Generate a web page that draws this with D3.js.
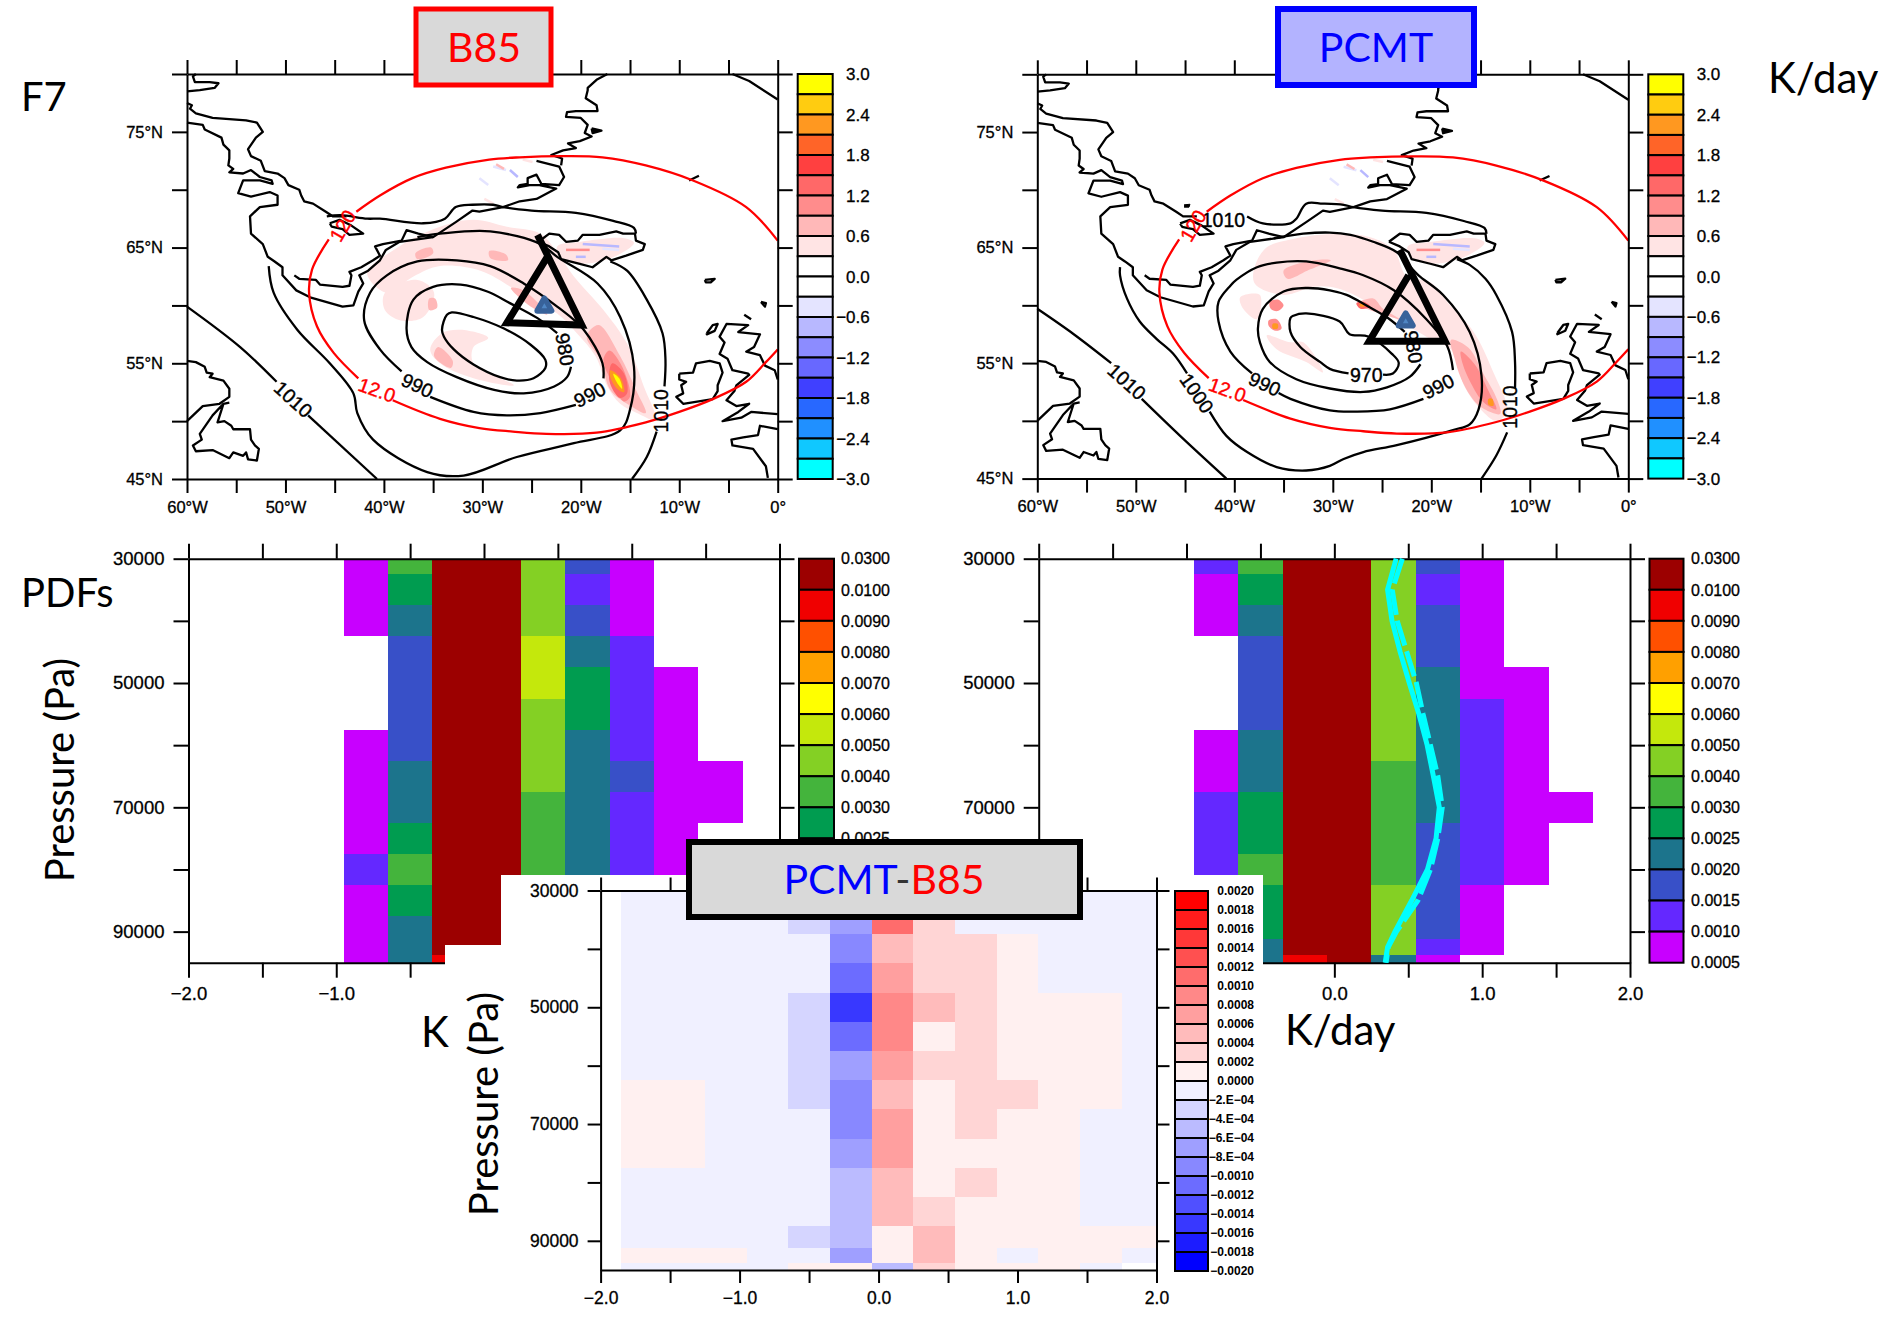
<!DOCTYPE html>
<html>
<head>
<meta charset="utf-8">
<title>F7 PDFs B85 PCMT</title>
<script src="https://cdn.jsdelivr.net/npm/d3@7"></script>
<style>
  html, body { margin: 0; background: #fff; }
  svg { display: block; }
  .tick line, .domain { stroke: #000; stroke-width: 2px; }
</style>
</head>
<body>
<div id="chart"></div>
<script>
// ---- coast lines, [lon, lat]
const coastNorthIsle = [[-59.1,80],[-59.4,79.8],[-59.2,79.3],[-57.7,79.3],[-56.8,79.2],[-57.2,78.8],[-58.7,78.6],[-60,78.5]]
const coastBaffin = [[-60,77.5],[-59.5,77.3],[-59.7,77],[-59.1,76.6],[-57.4,76.2],[-54,76],[-52.9,75.8],[-52.3,75],[-53,74.5],[-53.8,73.5],[-53.5,72.9],[-52.5,72.5],[-52.1,71.6],[-50.8,71.4],[-50.1,71],[-49.7,70.4],[-48.6,70],[-48.4,69.5],[-48.1,69],[-47.2,68.8],[-45.9,68.1],[-45.2,67.7],[-43.8,67.7]]
const coastWest = [[-60,75.8],[-58.4,75.6],[-58.2,75.2],[-56.5,74.5],[-56.3,73.9],[-55.7,73.4],[-55.7,72.7],[-55.8,72.1],[-55.3,71.8],[-55.7,71.5],[-54.3,71.4],[-53.5,71.7],[-52.6,71.1],[-51.4,70.8],[-51.3,70.5],[-52.6,70.8],[-54.3,70.8],[-54.8,69.7],[-53.5,69.4],[-51.6,69.8],[-50.8,69.5],[-50.8,68.7],[-52.6,68.5],[-53.6,67.7],[-53.5,66.2],[-52.3,65.3],[-51.8,64.2],[-51.1,63.8],[-50.3,63.3],[-50.3,62.6],[-48.9,61.3],[-47.5,60.7],[-44.2,59.9],[-43.1,60],[-42.6,61.2],[-42.1,61.9],[-42.5,62.6],[-41.6,63],[-40.4,63.9],[-39.8,64.8],[-38.4,65.5],[-35,65.9],[-32.7,67.2],[-31,68.2],[-30.3,68.1],[-27.9,68.5],[-26.2,69],[-24.5,69.2],[-22.5,70.1],[-24.2,70.4],[-25.2,70.4],[-26.4,70.2],[-26.2,70.4],[-25.4,70.5],[-25.4,71],[-24.5,71.3],[-24,70.5],[-22.2,70.4],[-21.7,71.1],[-22.2,72],[-24.5,72.5]]
const coastInner = [[-49.1,62.6],[-48.6,62.3],[-46.9,62.2],[-46.5,61.8],[-44.2,61.6],[-43.5,61.7],[-43.3,62.6],[-43.5,62.9],[-42.3,63.3],[-41.1,63.9],[-40.4,64.3],[-40.9,65.1],[-40.1,65.3],[-38.2,65.6],[-37.7,66.5],[-36.5,66.2],[-35,65.9]]
const coastEast = [[-22,72.1],[-21.9,72.7],[-23,73],[-21.8,73.4],[-20.5,73.6],[-21.3,74],[-20.1,74.2],[-18.9,74.6],[-19.6,74.9],[-19.3,75.6],[-20,76.2],[-21.5,76.3],[-21.4,76.7],[-20.5,76.8],[-18.3,76.8],[-18.4,77.3],[-19.5,77.9],[-19.3,78.6],[-19.3,78.8],[-18.4,79.5],[-17.3,80]]
const coastLoop = [[-45.5,67.1],[-44.5,67.4],[-43.3,66.9],[-42.1,66.2],[-43.5,66.1],[-44.2,66.6],[-45.3,66.8],[-45.5,67.1]]
const coastNewfLabrador = [[-60,55.2],[-59.1,55.1],[-58.2,54.7],[-58,54.2],[-57.4,54.1],[-57.7,53.8],[-56.3,53.5],[-55.7,52.8],[-55.7,52.1],[-56.7,51.5],[-58.4,51.3],[-60,50]]
const coastNewfoundland = [[-55.7,51.6],[-56.3,51.5],[-56.9,49.9],[-56.2,50],[-55.5,49.6],[-55.3,49.3],[-53.6,49.3],[-53.5,48.4],[-53.1,47.9],[-52.7,47.6],[-52.9,46.6],[-53.8,46.7],[-54,47.3],[-54.3,47],[-55.3,47.3],[-55.7,46.8],[-57.4,47.5],[-59.1,47.4],[-59.4,47.9],[-58.5,48.4],[-58.7,48.9],[-57.4,50.5],[-56.3,51.5]]
const coastIceland = [[-24.3,65.5],[-23.2,66.2],[-22.2,66.1],[-21.5,65.5],[-20.3,65.6],[-19.8,66.1],[-18.1,66.1],[-16.4,66.4],[-15.7,66.2],[-14.5,66.2],[-14.4,65.6],[-13.5,65.3],[-13.7,64.8],[-15.4,64.3],[-16.9,63.9],[-17.4,64.2],[-18.8,63.3],[-20.1,63.6],[-22,64],[-22.3,64.6],[-23.2,65.1],[-24.3,65.5]]
const coastBritain = [[0,53.6],[-0.3,54.4],[-1.3,54.8],[-1.8,55.7],[-3.2,56],[-2.4,56.4],[-1.8,57.5],[-4,57.7],[-3,58.3],[-5.2,58.4],[-5.9,57.3],[-5.4,56.8],[-5.9,55.8],[-5.1,55.4],[-4.6,54.4],[-3,54.1],[-2.9,54],[-4.2,53.1],[-4.4,52.6],[-5.2,51.8],[-4.2,51.3],[-2.9,51.5],[-4,50.8],[-5.6,50],[-3.7,50.3],[-2.7,50.8],[0,50.6]]
const coastIreland = [[-10,54.1],[-8.6,54.2],[-8.3,55],[-6.9,55.2],[-5.9,55],[-5.6,54.2],[-6.1,53.1],[-6.1,52.6],[-6.6,51.9],[-9.6,51.5],[-10.3,52.1],[-9.6,52.4],[-9.8,53.1],[-9.3,53.4],[-10,53.6],[-10,54.1]]
const coastFrance = [[0,49.3],[-1.8,49.6],[-2,48.8],[-3.5,48.6],[-4.7,48.4],[-4.6,47.9],[-2.5,47.6],[-1.2,46.1],[-1,45.1]]
const coastHebrides = [[-7.2,57.6],[-6.6,58.3],[-6.1,58.4],[-6.4,57.8],[-7.2,57.5],[-7.2,57.6]]
const coastOrkney = [[-3.4,59.2],[-2.7,58.8]]
const coastShetland = [[-1.7,60.3],[-1.2,60.2],[-1.3,59.9],[-1.7,60.3]]
const coastFaroes = [[-7.4,62.2],[-6.4,62.3],[-6.8,62],[-7.3,62],[-7.4,62.2]]
const coastSvalbard = [[-4.6,80],[-2.9,79.4],[0,77.8]]
const coastJanMayen = [[-9,70.8],[-8,71.2]]
const coastSmallEast = [[-18.9,75.3],[-17.9,75.1],[-18.8,74.9],[-18.9,75.3]]
const coasts = [coastNorthIsle, coastBaffin, coastWest, coastInner, coastEast, coastLoop, coastNewfLabrador, coastNewfoundland, coastIceland, coastBritain, coastIreland, coastFrance, coastHebrides, coastOrkney, coastShetland, coastFaroes, coastSvalbard, coastJanMayen, coastSmallEast]

// ---- red wind contour (12.0), same in both maps
const red12South = [[0,56.2],[-1.2,55.1],[-3.2,53.4],[-6.6,51.9],[-10,50.8],[-13.4,49.9],[-18.4,49],[-23.5,48.9],[-26.9,49.1],[-30.3,49.4],[-34.3,50.2],[-39.1,51.8]]
const red12West = [[-42.6,53.7],[-45.1,55.9],[-46.8,58.2],[-47.6,61.1],[-47.3,63.1],[-45.6,65.7]]
const red12North = [[-42.8,68.1],[-40.4,69.5],[-37.1,71],[-33.7,71.9],[-29.3,72.6],[-26.2,72.8],[-21.8,72.9],[-17.8,72.8],[-13.4,72.1],[-8.6,70.8],[-3.2,68.5],[0,65.6]]

// ---- sea level pressure contours, B85
const b85P970 = [[-34.1,57.9],[-33.6,59.2],[-33.1,59.4],[-30.9,59],[-27.8,58],[-25.1,56.6],[-23.6,55.3],[-23.6,54.6],[-24.8,53.7],[-26.5,53.5],[-28.2,53.8],[-30.9,54.9],[-32.9,56.2],[-33.9,57.3]]
const b85P980 = [[-21,54.7],[-21.4,53.8],[-22.7,53],[-25.8,52.4],[-28.8,52.7],[-32.6,53.8],[-35.6,55.1],[-37.2,56.4],[-37.7,58],[-37,60.5],[-35,61.6],[-32.2,61.8],[-29.5,61.2],[-27.2,60.2],[-24.4,58.9],[-22.4,57.6]]
const b85P990a = [[-38.2,54.3],[-40.4,56.2],[-42,58.7],[-41.4,61.1],[-39.7,62.6],[-36.6,63.8],[-32.6,63.9],[-29.2,63.4],[-25.8,61.9],[-22.4,59.9],[-19.7,57.9],[-17.8,55],[-17.7,53.7]]
const b85P990b = [[-35.3,52.1],[-30.9,50.8],[-27.5,50.5],[-24.1,50.7],[-20.5,51.4]]
const b85P1000 = [[-51.7,63.4],[-51.2,61.1],[-48.8,57.9],[-45.5,55],[-43.1,52.4],[-42.7,50.7],[-41.1,48.4],[-35.6,45.6],[-31.9,45.3],[-26.5,46.9],[-20.7,48.1],[-16,49.2],[-15,51],[-14.6,54.7],[-16,59],[-18.3,61.9],[-22.4,64.2],[-24.1,65.3],[-29.2,66.4],[-34.3,66.2],[-36.6,65.9]]
const b85P1010West = [[-60,59.9],[-54.6,56.4],[-50.9,53.4]]
const b85P1010WestB = [[-47.7,50.5],[-40.7,45]]
const b85P1010North = [[-45.8,67.7],[-44.4,67.8],[-41.7,67.5],[-40.4,67.5],[-36,67.1],[-33.8,67.5],[-32.7,68.5],[-31,68.7],[-28.9,68.7],[-27.9,68.5],[-25,68.2],[-20.5,68],[-16.7,67.3],[-14.6,66.7],[-14.4,66.2]]
const b85P1010East = [[-17,63.8],[-15.3,63],[-13.3,60.5],[-11.7,57.6],[-11.4,55.3],[-11.5,53]]
const b85P1010EastB = [[-12.3,49.1],[-13.3,46.9],[-14.8,45]]

// ---- sea level pressure contours, PCMT
const pcmtP970 = [[-24.9,54],[-23.9,54.1],[-23.3,55],[-24,55.8],[-26.4,57.3],[-28.3,57.5],[-29.3,58.6],[-32.7,59.3],[-34,59.1],[-34.3,58.9],[-34.3,57.7],[-33.3,56.4],[-31.3,55.1],[-30.3,54.5],[-28.4,54.1]]
const pcmtP980 = [[-21.1,54.9],[-22.2,53.8],[-24.5,52.9],[-26.9,52.5],[-30.3,52.8],[-33.7,53.6],[-36.4,55.1],[-37.4,56.8],[-37.6,58],[-37.1,59.7],[-35,61.2],[-32.7,61.5],[-30.3,61.3],[-28.6,60.9],[-26.4,59.9],[-24.4,58.9],[-22.7,57.7]]
const pcmtP990a = [[-17.8,54.4],[-18.4,56.5],[-20.5,58.8],[-23.8,61.3],[-26.9,62.6],[-29.3,63.2],[-32.7,63.8],[-35.7,63.7],[-37.7,63.3],[-39.8,62.2],[-40.4,61.7],[-41.6,60.3],[-41.6,58.6],[-40.4,56],[-38.2,54.1]]
const pcmtP990b = [[-35.5,52.4],[-34.3,51.9],[-30.3,50.9],[-27.6,50.8],[-24.2,51],[-20.8,51.9]]
const pcmtP1000a = [[-51.6,63.3],[-51.6,62.6],[-50.9,60.6],[-49.6,58.6],[-47.9,57.1],[-46.2,55.8],[-44.8,54.1]]
const pcmtP1000b = [[-42.5,50.8],[-40.8,48.7],[-38.7,47.3],[-35.7,46],[-32.7,45.7],[-30.3,46.1],[-28.9,46.7],[-26.9,47.3],[-23.5,47.9],[-17.8,49.2],[-16.1,49.7],[-15.2,51],[-14.9,53.9],[-16.1,57.7],[-18.8,60.9],[-21.3,62.6],[-22.3,63.5],[-23.5,64.6],[-25.9,65.5],[-28.2,66.1],[-30.3,66.3],[-33,66.2],[-36,65.8]]
const pcmtP1010West = [[-60,59.7],[-56.3,57.5],[-52.5,55]]
const pcmtP1010WestB = [[-49.4,51.9],[-45.5,48.7],[-40.8,45]]
const pcmtP1010North = [[-38.7,67.7],[-37.1,67.1],[-34.3,67.1],[-33.7,67.5],[-32.7,68.8],[-31,68.8],[-28.9,68.7],[-27.9,68.5],[-25,68.2],[-20.5,68],[-16.7,67.3],[-14.6,66.7],[-14.4,66.2]]
const pcmtP1010East = [[-17.4,64],[-16.1,63.5],[-14.5,62.3],[-13.4,60.9],[-11.8,57.7],[-11.5,55.1],[-11.5,52.8]]
const pcmtP1010EastB = [[-12.3,49],[-13.4,47],[-14.9,45]]
const pcmtSmallIsle = [[-45.1,68.7],[-44.5,68.75],[-44.6,68.5],[-45.1,68.5]]

// ---- heating shades, [value in K/day, polygon]
const iceShade = [[-22.4,65.1],[-20,65.5],[-15.6,65.8],[-14.6,65.4],[-16.6,64.2],[-20,63.6],[-22.1,64.2]]
const b85Shades = [
  [0.45, [[-41.7,62.8],[-39,64.8],[-34.3,66.8],[-30.9,67.4],[-27.5,66.8],[-24.1,66.2],[-22.1,64.2],[-20.7,62.5],[-17.7,59.6],[-15.3,56.7],[-13.6,53],[-12.4,50.1],[-14.3,50.7],[-16,51.5],[-17.3,53],[-18.5,55.6],[-20.4,57.6],[-22.4,59.3],[-25.1,60.5],[-27.1,61.6],[-30.2,63],[-34.3,63.4],[-37,62.5],[-39.7,61.1]]],
  [0.45, [[-39.9,61.1],[-36.6,62.2],[-34.9,61.1],[-36,59],[-38.3,58.7],[-39.9,59.6]]],
  [0.45, [[-35.3,56.2],[-34.1,57.6],[-32.2,57.9],[-29.4,57.2],[-30.9,56.4],[-30.9,55],[-26.8,53.1],[-30.9,53.7],[-34.3,55]]],
  [0.45, iceShade],
  [0.75, [[-18.2,58.3],[-16,55.6],[-14.4,52.7],[-13.4,50.7],[-15.1,51.4],[-17,52.7],[-18,55.3],[-19.4,57.3]]],
  [0.75, [[-36.8,64.5],[-35.2,65],[-35,64.5],[-36.6,64]]],
  [0.75, [[-29.3,64.7],[-27.6,64.4],[-27.4,63.9],[-29.2,64.1]]],
  [0.75, [[-35.4,60.6],[-34.8,60.6],[-34.6,59.8],[-35.4,59.6]]],
  [0.75, [[-34.5,56.4],[-33,55.2],[-33.2,54.6],[-34.9,55.6]]],
  [0.75, [[-27.1,61.5],[-25.8,61.3],[-23.4,59.2],[-25.1,59.9]]],
  [1.05, [[-17.1,56.1],[-15.8,54.7],[-15,52.1],[-15.6,51.7],[-17.1,53.8],[-17.7,55.3]]],
  [1.35, [[-16.8,55],[-15.6,54.1],[-15.3,52.4],[-16,52],[-17.1,53.5]]],
  [2.25, [[-17,54.4],[-16,53.8],[-15.6,52.5],[-16.3,52.8],[-17,53.8]]],
  [2.85, [[-16.7,54.1],[-16.1,53.7],[-15.8,52.8],[-16.3,53.3]]]
]
const pcmtShades = [
  [0.45, [[-37,64.8],[-33.7,65.8],[-29.3,66.2],[-26.2,65.9],[-23.8,64.8],[-22.5,62.5],[-20.1,62],[-18.1,60],[-15.7,57.7],[-13.7,54.2],[-12.3,50.8],[-13.4,50],[-15,51],[-16.7,53.1],[-17.8,56],[-20.1,57.1],[-23.5,58.8],[-25.9,60],[-28.6,61.2],[-30.3,61.6],[-32,61.6],[-35,60.9],[-38,62]]],
  [0.45, [[-39.4,60.7],[-37.4,60.9],[-37.7,58.8],[-39.1,59.7]]],
  [0.45, [[-36.7,57.4],[-34.3,56.8],[-33,56.8],[-31,54.2],[-32.7,55.1],[-35.7,56.2]]],
  [0.45, iceShade],
  [0.75, [[-18,57],[-16.2,56.3],[-14.8,54.2],[-13.3,51.8],[-13,50.6],[-14.6,51],[-15.8,51.9],[-17,53.7],[-17.6,55.3]]],
  [0.75, [[-35,63],[-31.9,63.9],[-30.2,63.9],[-32.6,63],[-34.6,62.3]]],
  [0.75, [[-27.6,60.1],[-25.9,60.6],[-24.9,59.7],[-23.2,58.8],[-24.5,59.1],[-26.6,59.7]]],
  [1.05, [[-17,56],[-15.6,54.9],[-14.2,52.6],[-13.4,51],[-14.7,51.6],[-16,53.3],[-16.8,54.9]]],
  [1.05, [[-36.4,60.3],[-35.6,60.5],[-35,60],[-35.6,59.5],[-36.3,59.7]]],
  [1.05, [[-36.5,58.7],[-35.7,58.8],[-35.2,58],[-35.8,57.8],[-36.5,58.2]]],
  [1.35, [[-27.6,60.2],[-26.9,60.3],[-26.2,59.9],[-27.2,59.7]]],
  [2.25, [[-27.3,60.1],[-26.9,60.1],[-26.8,59.9],[-27.2,59.9]]],
  [2.25, [[-36.1,58.4],[-35.6,58.4],[-35.6,58],[-36.1,58]]],
  [2.25, [[-14.2,51.9],[-13.8,51.9],[-13.7,51.3],[-14.2,51.4]]]
]
// short wiggles in the shading over Iceland and east of Greenland: lon0, lat0, lon1, lat1, value
const wiggles = [[-28.9,72,-27.6,71.7,-0.45],[-27.2,71.7,-26.4,71.1,-0.75],[-30.3,71,-29.4,70.4,-0.45],[-28.6,72.2,-27.8,71.8,0.75],[-29.8,69.2,-28.9,68.8,0.45],[-25.9,72.6,-24.9,72.4,0.45],[-19.8,65.3,-16.1,65.1,-0.75],[-21.5,64.8,-19.1,64.8,1.05],[-20.5,64.2,-19.5,64.2,-0.75],[-17.8,64.9,-16.1,64.8,-0.45]]

const b85Triangle = [[-24.4,66.1],[-19.9,58.3],[-27.5,58.5],[-23.4,64.2]]
const pcmtTriangle = [[-23.2,64.8],[-18.6,56.9],[-26.3,56.9],[-22.3,62.6]]
const b85Marker = [-23.7, 59.9]
const pcmtMarker = [-22.6, 58.6]

// label, lon, lat, angle
const b85Labels = [['1010',-49.2,51.9,42],['990',-36.6,53.1,25],['990',-19.1,52.3,-27],['980',-21.6,56.2,80],['1010',-11.9,50.9,-90]]
const pcmtLabels = [['1010',-50.9,53.4,42],['1000',-43.8,52.4,55],['990',-36.9,53.2,25],['970',-26.6,54,0],['990',-19.3,53,-27],['980',-21.8,56.4,80],['1010',-12,51.2,-90],['1010',-41.1,67.4,0]]
const redLabels = [['12.0',-40.7,52.7,20],['120',-44.2,66.9,-60]]

// ---- heating colour bar
const heatTicks = [3.0,2.4,1.8,1.2,0.6,0.0,-0.6,-1.2,-1.8,-2.4,-3.0]
const heatSteps = d3.range(-2.7, 2.71, 0.3)
const heatColors = ['#00ffff','#10c8ff','#2090ff','#2868ff','#4040ff','#6868ff','#8c8cff','#b8b8ff','#e4e4ff','#ffffff','#ffffff','#ffe4e4','#ffb8b8','#ff8c8c','#ff6868','#ff4040','#ff6428','#ff9820','#ffcc10','#ffff00']

// ---- PDF panels: levels, bins, values x 1e-4
const levels = [30000,35000,40000,45000,50000,55000,60000,65000,70000,75000,80000,85000,90000,92500,95000]
const pdfEdges = [-0.95,-0.65,-0.35,-0.05,0.25,0.55,0.85,1.15,1.45,1.75]
const pdfB85 = [
  [7.5,35,150,150,45,17.5,7.5,0,0],
  [7.5,27.5,150,150,45,12.5,7.5,0,0],
  [7.5,22.5,150,150,45,17.5,7.5,0,0],
  [0,17.5,150,150,55,22.5,12.5,0,0],
  [0,17.5,150,150,55,27.5,12.5,7.5,0],
  [0,17.5,150,150,45,27.5,12.5,7.5,0],
  [7.5,17.5,150,150,45,22.5,12.5,7.5,0],
  [7.5,22.5,150,150,45,22.5,17.5,7.5,7.5],
  [7.5,22.5,150,150,35,22.5,12.5,7.5,7.5],
  [7.5,27.5,150,150,35,22.5,12.5,7.5,0],
  [12.5,35,150,150,35,22.5,12.5,7.5,0],
  [7.5,27.5,150,150,45,22.5,7.5,0,0],
  [7.5,22.5,150,150,45,17.5,7.5,0,0],
  [7.5,22.5,150,150,45,12.5,7.5,0,0],
  [7.5,22.5,95,150,22.5,7.5,0,0,0]
]
const pdfPCMT = [
  [12.5,35,150,150,45,17.5,7.5,0,0],
  [7.5,27.5,150,150,45,12.5,7.5,0,0],
  [7.5,22.5,150,150,45,17.5,7.5,0,0],
  [0,17.5,150,150,45,17.5,7.5,0,0],
  [0,17.5,150,150,45,22.5,7.5,7.5,0],
  [0,17.5,150,150,45,22.5,12.5,7.5,0],
  [7.5,22.5,150,150,45,22.5,12.5,7.5,0],
  [7.5,22.5,150,150,35,22.5,12.5,7.5,0],
  [12.5,27.5,150,150,35,22.5,12.5,7.5,7.5],
  [12.5,27.5,150,150,35,17.5,12.5,7.5,0],
  [12.5,35,150,150,35,17.5,12.5,7.5,0],
  [12.5,27.5,150,150,45,17.5,7.5,0,0],
  [7.5,27.5,150,150,45,17.5,7.5,0,0],
  [7.5,22.5,150,150,45,12.5,7.5,0,0],
  [7.5,22.5,95,150,22.5,7.5,0,0,0]
]
const pdfTicks = [0.03,0.01,0.009,0.008,0.007,0.006,0.005,0.004,0.003,0.0025,0.002,0.0015,0.001,0.0005]
const pdfColors = ['#9c0000','#f00000','#ff5000','#ffa000','#ffff00','#c4e80c','#84d024','#44b43c','#009c50','#1c748c','#3850c8','#6428ff','#c800ff']

// cyan profiles on the PCMT panel
const meanSolid = [0.418,0.36,0.39,0.445,0.507,0.572,0.628,0.67,0.71,0.688,0.63,0.523,0.41,0.36,0.344]
const meanDashed = [0.46,0.392,0.425,0.49,0.555,0.6,0.65,0.7,0.73,0.7,0.65,0.565,0.42,0.365,0.35]

// ---- PCMT-B85, values x 1e-4
const diffEdges = [-1.85,-1.55,-1.25,-0.95,-0.65,-0.35,-0.05,0.25,0.55,0.85,1.15,1.45,1.75,2]
const pdfDiff = [
  [-1,-1,-1,-1,-1,-5,9,3,-1,-1,-1,-1,-1],
  [-1,-1,-1,-1,-3,-7,11,3,-1,-1,-1,-1,-1],
  [-1,-1,-1,-1,-1,-9,5,3,3,1,-1,-1,-1],
  [-1,-1,-1,-1,-1,-11,7,3,3,1,-1,-1,-1],
  [-1,-1,-1,-1,-3,-15,9,5,3,1,1,1,-1],
  [-1,-1,-1,-1,-3,-11,9,1,3,1,1,1,-1],
  [-1,-1,-1,-1,-3,-7,7,3,3,1,1,1,-1],
  [1,1,-1,-1,-3,-9,5,1,3,3,1,1,-1],
  [1,1,-1,-1,-1,-9,7,1,3,1,1,-1,-1],
  [1,1,-1,-1,-1,-7,7,1,1,1,1,-1,-1],
  [-1,-1,-1,-1,-1,-5,5,1,3,1,1,-1,-1],
  [-1,-1,-1,-1,-1,-5,5,3,1,1,1,-1,-1],
  [-1,-1,-1,-1,-3,-5,1,5,1,1,1,1,1],
  [1,1,1,-1,-1,-7,1,5,1,-1,1,1,-1],
  [-1,-1,-1,-1,1,1,-5,3,1,1,1,-1,0]
]
const diffTicks = ['0.0020','0.0018','0.0016','0.0014','0.0012','0.0010','0.0008','0.0006','0.0004','0.0002','0.0000','\u22122.E\u221204','\u22124.E\u221204','\u22126.E\u221204','\u22128.E\u221204','\u22120.0010','\u22120.0012','\u22120.0014','\u22120.0016','\u22120.0018','\u22120.0020']
const diffColors = ['#ff0000','#ff1c1c','#ff3838','#ff5050','#ff6c6c','#ff8888','#ff9f9f','#ffbbbb','#ffd5d5','#fff0f0','#f0f0ff','#d5d5ff','#bbbbff','#9f9fff','#8888ff','#6c6cff','#5050ff','#3838ff','#1c1cff','#0000ff']

const numFont = '"Liberation Sans", Arial, sans-serif'
const bigFont = 'Lato, "Open Sans", sans-serif'

const svg = d3.select('#chart').append('svg').attr('width', 1895).attr('height', 1318)

const heatColor = d3.scaleThreshold().domain(heatSteps).range(heatColors)
const pdfColor = d3.scaleThreshold()
  .domain([0.0005,0.001,0.0015,0.002,0.0025,0.003,0.004,0.005,0.006,0.007,0.008,0.009,0.01])
  .range(['none'].concat(pdfColors.slice().reverse()))
const diffColor = d3.scaleThreshold()
  .domain(d3.range(-18, 19, 2))
  .range(diffColors.slice().reverse())

function styleAxis (g, size) {
  g.selectAll('text')
    .attr('font-family', numFont)
    .attr('font-size', size)
    .attr('fill', '#000')
    .attr('stroke', '#000')
    .attr('stroke-width', 0.3)
}

// ---------------- maps
function drawMap (opt) {
  const { box, contours, closed, shades, labels, triangle, marker, extras } = opt
  const x = d3.scaleLinear().domain([-60, 0]).range([box.x0, box.x1])
  const y = d3.scaleLinear().domain([45, 80]).range([box.y1, box.y0])
  const g = svg.append('g')
  const line = d3.line().x(d => x(d[0])).y(d => y(d[1]))
  const smooth = d3.line().x(d => x(d[0])).y(d => y(d[1])).curve(d3.curveCatmullRom)
  const blob = d3.line().x(d => x(d[0])).y(d => y(d[1])).curve(d3.curveCatmullRomClosed)

  g.selectAll('path.shade').data(shades).enter().append('path')
    .attr('class', 'shade')
    .attr('d', d => blob(d[1]))
    .attr('fill', d => heatColor(d[0]))
  g.selectAll('line.wiggle').data(wiggles).enter().append('line')
    .attr('class', 'wiggle')
    .attr('x1', d => x(d[0])).attr('y1', d => y(d[1]))
    .attr('x2', d => x(d[2])).attr('y2', d => y(d[3]))
    .attr('stroke', d => heatColor(d[4]))
    .attr('stroke-width', 2.5)

  g.selectAll('path.coast').data(coasts).enter().append('path')
    .attr('class', 'coast')
    .attr('d', line)
    .attr('fill', 'none')
    .attr('stroke', '#000')
    .attr('stroke-width', 2.3)
    .attr('stroke-linejoin', 'round')
  extras.forEach(p => {
    g.append('path').attr('d', line(p)).attr('fill', '#000').attr('stroke', '#000')
  })
  g.append('path').attr('d', line(coastSmallEast)).attr('fill', '#000')

  g.selectAll('path.slp').data(contours).enter().append('path')
    .attr('class', 'slp')
    .attr('d', smooth)
    .attr('fill', 'none')
    .attr('stroke', '#000')
    .attr('stroke-width', 2.3)
  if (closed) {
    g.append('path').attr('d', blob(closed))
      .attr('fill', 'none').attr('stroke', '#000').attr('stroke-width', 2.3)
  }

  g.selectAll('path.red').data([red12South, red12West, red12North]).enter().append('path')
    .attr('class', 'red')
    .attr('d', smooth)
    .attr('fill', 'none')
    .attr('stroke', '#ff0000')
    .attr('stroke-width', 2.3)

  const putLabel = (sel, color) => sel.enter().append('text')
    .text(d => d[0])
    .attr('transform', d => `translate(${x(d[1])},${y(d[2])}) rotate(${d[3]})`)
    .attr('text-anchor', 'middle')
    .attr('dy', '0.36em')
    .attr('font-family', numFont)
    .attr('font-size', 19.5)
    .attr('fill', color)
    .attr('stroke', color)
    .attr('stroke-width', 0.4)
  putLabel(g.selectAll('text.p').data(labels), '#000')
  putLabel(g.selectAll('text.r').data(redLabels), '#ff0000')

  // frame and ticks
  const lonTicks = d3.range(-60, 1, 5)
  const latTicks = d3.range(45, 81, 5)
  const lonFmt = d => d % 10 === 0 ? (d === 0 ? '0\u00b0' : `${-d}\u00b0W`) : ''
  const latFmt = d => d % 10 === 5 && d < 80 ? `${d}\u00b0N` : ''
  g.append('g').attr('transform', `translate(0,${box.y1})`)
    .call(d3.axisBottom(x).tickValues(lonTicks).tickFormat(lonFmt).tickSize(14).tickSizeOuter(0).tickPadding(8))
    .call(styleAxis, 16.5)
  g.append('g').attr('transform', `translate(0,${box.y0})`)
    .call(d3.axisTop(x).tickValues(lonTicks).tickFormat('').tickSize(14).tickSizeOuter(0))
  g.append('g').attr('transform', `translate(${box.x0},0)`)
    .call(d3.axisLeft(y).tickValues(latTicks).tickFormat(latFmt).tickSize(15).tickSizeOuter(0).tickPadding(9))
    .call(styleAxis, 16.5)
  g.append('g').attr('transform', `translate(${box.x1},0)`)
    .call(d3.axisRight(y).tickValues(latTicks).tickFormat('').tickSize(15).tickSizeOuter(0))

  // hand drawn triangle and the small marker inside it
  g.append('path').attr('d', line(triangle))
    .attr('fill', 'none').attr('stroke', '#000').attr('stroke-width', 7).attr('stroke-linejoin', 'miter')
  g.append('path')
    .attr('transform', `translate(${x(marker[0])},${y(marker[1])})`)
    .attr('d', d3.symbol(d3.symbolTriangle, 85)())
    .attr('fill', '#38629a').attr('stroke', '#38629a').attr('stroke-width', 6).attr('stroke-linejoin', 'round')
  g.append('path')
    .attr('transform', `translate(${x(marker[0])},${y(marker[1])})`)
    .attr('d', d3.symbol(d3.symbolTriangle, 14)())
    .attr('fill', '#4f86c4')

  // colour bar
  const cb = d3.scalePoint().domain(heatTicks).range([box.y0, box.y1])
  const bar = svg.append('g')
  bar.selectAll('rect').data(heatColors.slice().reverse()).enter().append('rect')
    .attr('x', box.x1 + 20)
    .attr('width', 35)
    .attr('y', (d, i) => box.y0 + i * (box.y1 - box.y0) / heatColors.length)
    .attr('height', (box.y1 - box.y0) / heatColors.length)
    .attr('fill', d => d)
    .attr('stroke', '#000')
    .attr('stroke-width', 2)
  bar.selectAll('text').data(heatTicks).enter().append('text')
    .text(d => d.toFixed(1).replace('-', '\u2212'))
    .attr('x', box.x1 + 92)
    .attr('y', d => cb(d))
    .attr('dy', '0.36em')
    .attr('text-anchor', 'end')
    .attr('font-family', numFont)
    .attr('font-size', 17)
    .attr('stroke', '#000')
    .attr('stroke-width', 0.3)
}

const leftMapBox = { x0: 187, x1: 777.7, y0: 74, y1: 479 }
const rightMapBox = { x0: 1037.3, x1: 1628.3, y0: 74.3, y1: 478.6 }

drawMap({
  box: leftMapBox,
  contours: [b85P980, b85P990a, b85P990b, b85P1000, b85P1010West, b85P1010WestB, b85P1010North, b85P1010East, b85P1010EastB],
  closed: b85P970,
  shades: b85Shades,
  labels: b85Labels,
  triangle: b85Triangle,
  marker: b85Marker,
  extras: []
})
drawMap({
  box: rightMapBox,
  contours: [pcmtP970, pcmtP980, pcmtP990a, pcmtP990b, pcmtP1000a, pcmtP1000b, pcmtP1010West, pcmtP1010WestB, pcmtP1010North, pcmtP1010East, pcmtP1010EastB],
  closed: null,
  shades: pcmtShades,
  labels: pcmtLabels,
  triangle: pcmtTriangle,
  marker: pcmtMarker,
  extras: [pcmtSmallIsle]
})

// ---------------- pressure panels
function rowEdges (i) {
  const top = i === 0 ? levels[0] : (levels[i - 1] + levels[i]) / 2
  const bot = i === levels.length - 1 ? levels[i] : (levels[i] + levels[i + 1]) / 2
  return [top, bot]
}

function drawPanel (opt) {
  const { box, rows, edges, color, fontSize, tickSize, xLabels, yLabels } = opt
  const x = d3.scaleLinear().domain([-2, 2]).range([box.x0, box.x1])
  const y = d3.scaleLinear().domain([30000, 95000]).range([box.y0, box.y1])
  const g = svg.append('g')
  rows.forEach((row, i) => {
    const [top, bot] = rowEdges(i)
    g.selectAll(null).data(row).enter().append('rect')
      .attr('x', (d, j) => x(edges[j]))
      .attr('width', (d, j) => x(edges[j + 1]) - x(edges[j]))
      .attr('y', y(top))
      .attr('height', y(bot) - y(top))
      .attr('fill', d => color(d))
      .attr('shape-rendering', 'crispEdges')
  })
  const xTicks = d3.range(-2, 2.01, 0.5)
  const yTicks = d3.range(30000, 90001, 10000)
  const xFmt = d => xLabels.includes(d) ? d.toFixed(1).replace('-', '\u2212') : ''
  const yFmt = d => yLabels.includes(d) ? String(d) : ''
  g.append('g').attr('transform', `translate(0,${box.y1})`)
    .call(d3.axisBottom(x).tickValues(xTicks).tickFormat(xFmt).tickSize(tickSize).tickSizeOuter(0).tickPadding(9))
    .call(styleAxis, fontSize)
  g.append('g').attr('transform', `translate(0,${box.y0})`)
    .call(d3.axisTop(x).tickValues(xTicks).tickFormat('').tickSize(tickSize).tickSizeOuter(0))
  g.append('g').attr('transform', `translate(${box.x0},0)`)
    .call(d3.axisLeft(y).tickValues(yTicks).tickFormat(yFmt).tickSize(tickSize).tickSizeOuter(0).tickPadding(9))
    .call(styleAxis, fontSize)
  g.append('g').attr('transform', `translate(${box.x1},0)`)
    .call(d3.axisRight(y).tickValues(yTicks).tickFormat('').tickSize(tickSize).tickSizeOuter(0))
  return { x, y }
}

function drawBar (opt) {
  const { x, w, y0, y1, colors, labels, labelX, font, weight } = opt
  const cb = d3.scaleLinear().domain([0, colors.length]).range([y0, y1])
  const g = svg.append('g')
  g.selectAll('rect').data(colors).enter().append('rect')
    .attr('x', x).attr('width', w)
    .attr('y', (d, i) => cb(i))
    .attr('height', (d, i) => cb(i + 1) - cb(i))
    .attr('fill', d => d)
    .attr('stroke', '#000')
    .attr('stroke-width', 2)
  g.selectAll('text').data(labels).enter().append('text')
    .text(d => d)
    .attr('x', labelX)
    .attr('y', (d, i) => cb(i))
    .attr('dy', '0.36em')
    .attr('text-anchor', 'end')
    .attr('font-family', numFont)
    .attr('font-size', font)
    .attr('font-weight', weight)
    .attr('stroke', '#000')
    .attr('stroke-width', weight === 'bold' ? 0 : 0.3)
}

const pdfColorAt = v => pdfColor(v / 1e4)
const pdfLabels = pdfTicks.map(d => d.toFixed(4))

const leftPanelBox = { x0: 188.5, x1: 779.5, y0: 558.7, y1: 962.7 }
const rightPanelBox = { x0: 1038.7, x1: 1630, y0: 558.7, y1: 962.7 }

// the pasted panel hides the rest of these labels, so they are left out
drawPanel({ box: leftPanelBox, rows: pdfB85, edges: pdfEdges, color: pdfColorAt, fontSize: 18.5, tickSize: 15, xLabels: [-2, -1], yLabels: [30000, 50000, 70000, 90000] })
drawBar({ x: 799, w: 35, y0: 558.7, y1: 962.7, colors: pdfColors, labels: pdfLabels.slice(0, 10), labelX: 890, font: 16, weight: 'normal' })

const rightScales = drawPanel({ box: rightPanelBox, rows: pdfPCMT, edges: pdfEdges, color: pdfColorAt, fontSize: 18.5, tickSize: 15, xLabels: [0, 1, 2], yLabels: [30000, 50000, 70000] })
drawBar({ x: 1649.5, w: 34, y0: 558.7, y1: 962.7, colors: pdfColors, labels: pdfLabels, labelX: 1740, font: 16, weight: 'normal' })

const profile = d3.line()
  .x(d => rightScales.x(d))
  .y((d, i) => rightScales.y(levels[i]))
svg.append('path').attr('d', profile(meanDashed))
  .attr('fill', 'none').attr('stroke', '#00ffff').attr('stroke-width', 5).attr('stroke-dasharray', '26,6')
svg.append('path').attr('d', profile(meanSolid))
  .attr('fill', 'none').attr('stroke', '#00ffff').attr('stroke-width', 5)

// white background of the pasted difference panel
svg.append('rect').attr('x', 501).attr('y', 875).attr('width', 762).attr('height', 120).attr('fill', '#fff')
svg.append('rect').attr('x', 445).attr('y', 945).attr('width', 818).attr('height', 373).attr('fill', '#fff')

drawPanel({
  box: { x0: 600.6, x1: 1156.5, y0: 890.5, y1: 1270 },
  rows: pdfDiff,
  edges: diffEdges,
  color: v => v === 0 ? 'none' : diffColor(v),
  fontSize: 17.5,
  tickSize: 13,
  xLabels: [-2, -1, 0, 1, 2],
  yLabels: [30000, 50000, 70000, 90000]
})
drawBar({ x: 1175, w: 33, y0: 891, y1: 1271, colors: diffColors, labels: diffTicks, labelX: 1254, font: 12, weight: 'bold' })

// ---------------- title boxes and large labels
function titleBox (x, y, w, h, fill, stroke, sw) {
  svg.append('rect').attr('x', x).attr('y', y).attr('width', w).attr('height', h)
    .attr('fill', fill).attr('stroke', stroke).attr('stroke-width', sw)
}
function bigText (str, x, y, size, color, anchor, rotate) {
  const t = svg.append('text').text(str)
    .attr('font-family', bigFont)
    .attr('font-size', size)
    .attr('fill', color)
    .attr('text-anchor', anchor || 'start')
  if (rotate) t.attr('transform', `translate(${x},${y}) rotate(${rotate})`)
  else t.attr('x', x).attr('y', y)
  return t
}

titleBox(416, 9, 135, 76, '#d9d9d9', '#ff0000', 5)
bigText('B85', 484, 62, 41, '#ff0000', 'middle')
titleBox(1278, 9, 196, 76, '#b3b3ff', '#0000ff', 6)
bigText('PCMT', 1376, 62, 41, '#0000ff', 'middle')

titleBox(689, 842, 391, 75, '#d9d9d9', '#000', 6)
const diffTitle = bigText('PCMT', 884, 894, 41, '#0000ff', 'middle')
diffTitle.append('tspan').text('-').attr('fill', '#333')
diffTitle.append('tspan').text('B85').attr('fill', '#ff0000')

bigText('F7', 21, 111, 40, '#000')
bigText('PDFs', 21, 607, 40, '#000')
bigText('K/day', 1768, 93, 42, '#000')
bigText('Pressure (Pa)', 74, 770, 40, '#000', 'middle', -90)
bigText('Pressure (Pa)', 498, 1104, 40, '#000', 'middle', -90)
bigText('K', 421, 1047, 42, '#000')
bigText('K/day', 1285, 1045, 42, '#000')
</script>
</body>
</html>
